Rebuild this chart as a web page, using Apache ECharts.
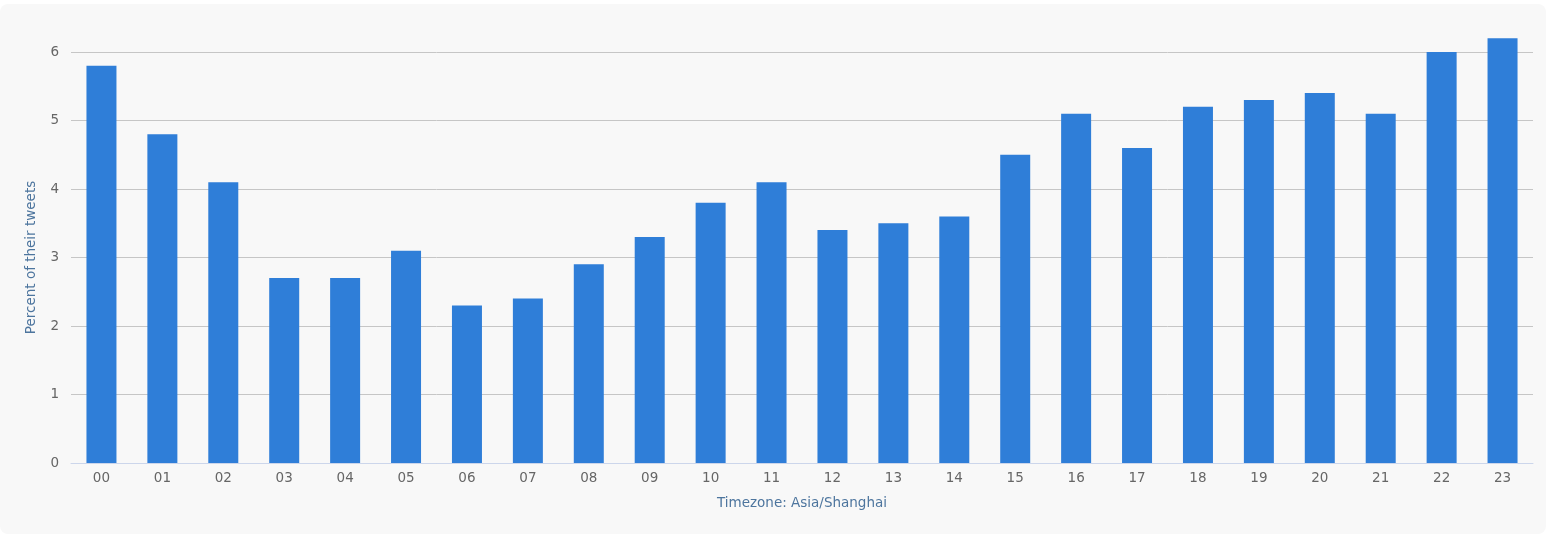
<!DOCTYPE html>
<html><head><meta charset="utf-8">
<script src="https://cdn.jsdelivr.net/npm/echarts@6/dist/echarts.min.js"></script>
<style>
html,body{margin:0;padding:0;background:#fff;}
#wrap{position:absolute;left:0;top:4px;width:1546px;height:530px;background:#f8f8f8;border-radius:8px;}
#c{position:absolute;left:0;top:-4px;width:1546px;height:534px;}
</style></head>
<body><div id="wrap"><div id="c"></div></div>
<script>
const hours = ['00','01','02','03','04','05','06','07','08','09','10','11','12','13','14','15','16','17','18','19','20','21','22','23'];
const percent = [5.8,4.8,4.1,2.7,2.7,3.1,2.3,2.4,2.9,3.3,3.8,4.1,3.4,3.5,3.6,4.5,5.1,4.6,5.2,5.3,5.4,5.1,6.0,6.2];
const yTicks = [0,1,2,3,4,5,6];
const xTitle = 'Timezone: Asia/Shanghai';
const yTitle = 'Percent of their tweets';

const chart = echarts.init(document.getElementById('c'));
const font = 'DejaVu Sans';
chart.setOption({
  animation:false,
  backgroundColor:'transparent',
  grid:{left:71,right:13,top:52,bottom:71},
  xAxis:{
    type:'category', data:hours, boundaryGap:true,
    name:xTitle, nameLocation:'middle', nameGap:33,
    nameTextStyle:{color:'#4d759e',fontFamily:font,fontSize:13.5},
    axisLine:{lineStyle:{color:'#ccd6eb',width:1}},
    axisTick:{length:8,lineStyle:{color:'#ccd6eb'}},
    axisLabel:{color:'#666',fontFamily:font,fontSize:13.5,margin:8}
  },
  yAxis:{
    type:'value', min:yTicks[0], max:yTicks[yTicks.length-1], interval:1,
    name:yTitle, nameLocation:'middle', nameGap:33,
    nameTextStyle:{color:'#4d759e',fontFamily:font,fontSize:13.5},
    axisLine:{show:false}, axisTick:{show:false},
    axisLabel:{color:'#666',fontFamily:font,fontSize:13.5,margin:12},
    splitLine:{lineStyle:{color:'#c6c6c6',width:1}}
  },
  series:[{type:'bar',data:percent,barWidth:30,clip:false,itemStyle:{color:'#2f7ed8'}}]
});
</script></body></html>
